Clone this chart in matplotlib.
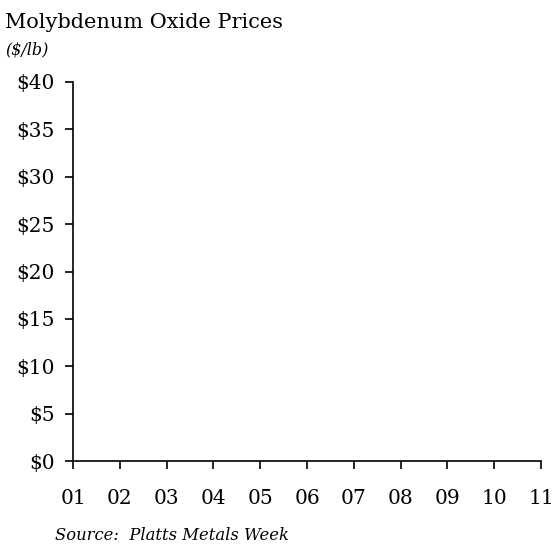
import matplotlib
matplotlib.use("Agg")
import matplotlib.pyplot as plt

years = ["01", "02", "03", "04", "05", "06", "07", "08", "09", "10", "11"]
price_ticks = [0, 5, 10, 15, 20, 25, 30, 35, 40]
prices = []  # no series plotted in the reference

fig = plt.figure(figsize=(5.52, 5.50), dpi=100)
ax = fig.add_axes([73 / 552, 1 - 461 / 550, (541 - 73) / 552, (461 - 82) / 550])

x = list(range(len(years)))
if prices:
    ax.plot(x[:len(prices)], prices, color="black")

ax.set_xlim(0, len(years) - 1)
ax.set_ylim(0, 40)
ax.set_xticks(x)
ax.set_xticklabels(years)
ax.set_yticks(price_ticks)
ax.set_yticklabels(["$%d" % v for v in price_ticks])

for s in ["top", "right"]:
    ax.spines[s].set_visible(False)
for s in ["left", "bottom"]:
    ax.spines[s].set_linewidth(1.2)
ax.tick_params(axis="both", direction="out", length=6, width=1.2, labelsize=14.5)
ax.tick_params(axis="x", pad=14)
ax.tick_params(axis="y", pad=7)
for lbl in ax.get_xticklabels() + ax.get_yticklabels():
    lbl.set_family("DejaVu Serif")

fig.text(5 / 552, 1 - 22 / 550, "Molybdenum Oxide Prices", family="DejaVu Serif",
         fontsize=15, va="center", ha="left")
fig.text(5 / 552, 1 - 50 / 550, "($/lb)", family="DejaVu Serif", style="italic",
         fontsize=11.5, va="center", ha="left")
fig.text(55 / 552, 1 - 536 / 550, "Source:  Platts Metals Week", family="DejaVu Serif",
         style="italic", fontsize=11.8, va="center", ha="left")

fig.savefig("out.png", dpi=100, facecolor="white")
